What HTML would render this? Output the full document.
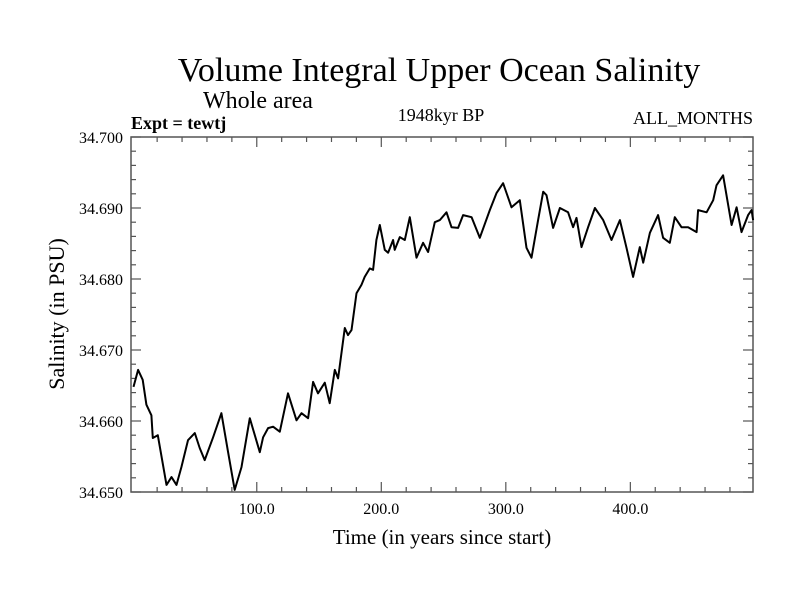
<!DOCTYPE html>
<html><head><meta charset="utf-8"><style>
body{margin:0;background:#fff}
svg{display:block;font-family:"Liberation Serif",serif}
</style></head><body>
<svg id="chart" width="800" height="600">
<text x="439" y="81" font-size="34" text-anchor="middle">Volume Integral Upper Ocean Salinity</text>
<text x="203" y="108" font-size="24">Whole area</text>
<text x="131" y="129" font-size="18" font-weight="bold">Expt = tewtj</text>
<text x="441" y="121" font-size="18" text-anchor="middle">1948kyr BP</text>
<text x="753" y="124" font-size="18" text-anchor="end">ALL_MONTHS</text>
<text x="442" y="544" font-size="21" text-anchor="middle">Time (in years since start)</text>
<text transform="translate(64,314) rotate(-90)" font-size="22" text-anchor="middle">Salinity (in PSU)</text>
<g id="axes"></g>
<path id="line" fill="none" stroke="#000" stroke-width="2" stroke-linejoin="round"></path>
</svg>
<script>
const years=[1,4.7,8.4,11.4,15.4,16.5,20.5,27.5,31.5,35.5,39.5,44.8,50.2,54.2,58.2,64.9,71.6,77,82.3,87.7,94.4,102.4,105.1,109.1,113.1,118.5,125.1,131.9,135.9,141.2,145.2,149.2,154.6,158.6,162.7,165.3,170.7,173.3,176.1,180.1,184.1,186.7,190.8,193.4,196.1,198.8,202.8,205.5,209.5,210.8,214.9,218.9,222.9,228.3,233.6,237.6,243,247,252.4,256.4,261.7,265.7,272.5,279.1,287.1,292.5,297.8,304.6,311.2,316.6,320.6,325.9,330,332.7,338,343.4,350,354,356.8,360.8,366.1,371.5,378.2,384.9,391.6,396.9,402.2,407.6,410.3,415.7,422.3,426.3,431.7,435.7,441.1,446.4,453.2,454.4,461.2,466.5,469.2,474.5,481.3,485.3,489.3,494.6,497.4,498.6];
const salinity=[34.6648,34.6672,34.6658,34.6623,34.6608,34.6576,34.6580,34.6510,34.6521,34.6510,34.6535,34.6573,34.6583,34.6562,34.6545,34.6577,34.6611,34.6556,34.6503,34.6535,34.6604,34.6556,34.6577,34.6590,34.6592,34.6585,34.6639,34.6601,34.6611,34.6604,34.6655,34.6639,34.6654,34.6625,34.6672,34.6660,34.6731,34.6721,34.6728,34.6780,34.6792,34.6803,34.6815,34.6813,34.6855,34.6876,34.6841,34.6837,34.6855,34.6841,34.6859,34.6855,34.6887,34.6830,34.6851,34.6838,34.6880,34.6883,34.6894,34.6873,34.6872,34.6890,34.6887,34.6858,34.6897,34.6921,34.6935,34.6901,34.6911,34.6844,34.6830,34.6883,34.6923,34.6918,34.6872,34.6900,34.6894,34.6873,34.6886,34.6845,34.6873,34.6900,34.6883,34.6855,34.6883,34.6844,34.6803,34.6845,34.6823,34.6865,34.6890,34.6858,34.6851,34.6887,34.6873,34.6873,34.6866,34.6897,34.6894,34.6911,34.6932,34.6946,34.6876,34.6901,34.6866,34.6890,34.6897,34.6883];
const xTickVals=[100,200,300,400];
const xTickLabels=["100.0","200.0","300.0","400.0"];
const yTickVals=[34.65,34.66,34.67,34.68,34.69,34.70];
const yTickLabels=["34.650","34.660","34.670","34.680","34.690","34.700"];

const L=131,R=753,T=137,B=492,X0=-1,X1=498.5,Y0=34.65,Y1=34.70;
const sx=v=>L+(v-X0)/(X1-X0)*(R-L);
const sy=v=>B-(v-Y0)/(Y1-Y0)*(B-T);
const NS="http://www.w3.org/2000/svg";
const ax=document.getElementById('axes');
function mk(tag,attrs){const e=document.createElementNS(NS,tag);for(const k in attrs)e.setAttribute(k,attrs[k]);ax.appendChild(e);return e;}
const frame=mk('rect',{x:L,y:T,width:R-L,height:B-T,fill:'none',stroke:'#555','stroke-width':1.5});


for(let v=20;v<X1;v+=20){
  const major=v%100===0,len=major?10:5,x=sx(v);
  const t1=mk('line',{x1:x,x2:x,y1:B,y2:B-len,stroke:'#555','stroke-width':1.2});
  
  
  const t2=mk('line',{x1:x,x2:x,y1:T,y2:T+len,stroke:'#555','stroke-width':1.2});
  
  
}
for(let i=0;i<=25;i++){
  const v=Y0+i*0.002,major=i%5===0,len=major?10:5,y=sy(v);
  const t1=mk('line',{x1:L,x2:L+len,y1:y,y2:y,stroke:'#555','stroke-width':1.2});
  
  
  const t2=mk('line',{x1:R,x2:R-len,y1:y,y2:y,stroke:'#555','stroke-width':1.2});
  
  
}
xTickVals.forEach((v,i)=>{
  const t=mk('text',{x:sx(v),y:B+22,'font-size':16,'text-anchor':'middle'});
  t.textContent=xTickLabels[i];
  
  
});
yTickVals.forEach((v,i)=>{
  const t=mk('text',{x:L-8,y:sy(v)+6,'font-size':16,'text-anchor':'end'});
  t.textContent=yTickLabels[i];
  
  
});
document.getElementById('line').setAttribute('d',years.map((y,i)=>(i?'L':'M')+sx(y).toFixed(1)+','+sy(salinity[i]).toFixed(1)).join(''));
</script>
</body></html>
